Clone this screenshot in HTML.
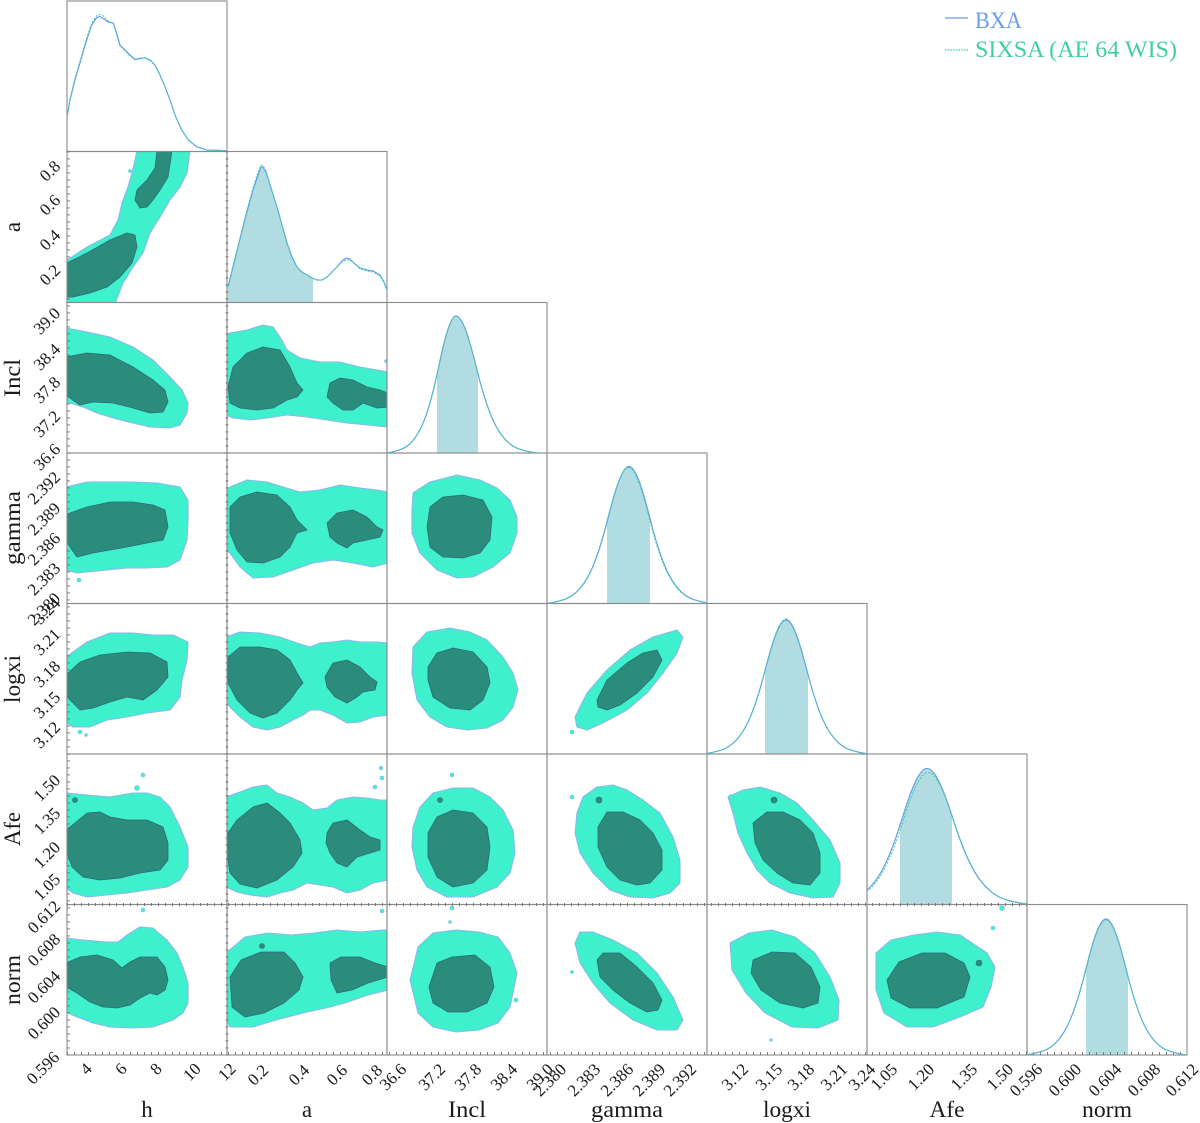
<!DOCTYPE html>
<html>
<head>
<meta charset="utf-8">
<style>
  html,body{margin:0;padding:0;background:#fff;}
  svg{display:block;}
  .lo{fill:#3ef0cb;stroke:#8ab8f0;stroke-width:1.1;stroke-linejoin:round;}
  .dk{fill:#2b8c7c;stroke:#2e6a78;stroke-width:0.8;stroke-linejoin:round;}
  .il{fill:#3ef0cb;stroke:#8ab8f0;stroke-width:0.6;}
  .id{fill:#2b8c7c;stroke:#2e6a78;stroke-width:0.6;}
  .bd{fill:none;stroke:#8a8a8a;stroke-width:1.1;}
  .tl{font-family:"Liberation Serif",serif;font-size:17px;fill:#1a1a1a;}
  .al{font-family:"Liberation Serif",serif;font-size:23px;fill:#1a1a1a;}
  .sh{fill:#b0dce2;}
  .cb{fill:none;stroke:#6a9cf0;stroke-width:1.2;}
  .cg{fill:none;stroke:#3fcf9f;stroke-width:1.0;stroke-dasharray:2 1.5;}
</style>
</head>
<body>
<svg width="1200" height="1123" viewBox="0 0 1200 1123" xmlns="http://www.w3.org/2000/svg">
<defs>
  <path id="gl" vector-effect="non-scaling-stroke" d="M-4 0 C-3.667 0 -3.333 -0.0133 -3 -0.03 C-2.667 -0.0467 -2.333 -0.0867 -2 -0.17 C-1.667 -0.2533 -1.333 -0.3998 -1 -0.6065 C-0.667 -0.8132 -0.333 -1 0 -1"/>
  <path id="gr" vector-effect="non-scaling-stroke" d="M0 -1 C0.333 -1 0.667 -0.8132 1 -0.6065 C1.333 -0.3998 1.667 -0.2533 2 -0.17 C2.333 -0.0867 2.667 -0.0467 3 -0.03 C3.333 -0.0133 3.667 0 4 0"/>
  <path id="glf" d="M-4 0 C-3.667 0 -3.333 -0.0133 -3 -0.03 C-2.667 -0.0467 -2.333 -0.0867 -2 -0.17 C-1.667 -0.2533 -1.333 -0.3998 -1 -0.6065 C-0.667 -0.8132 -0.333 -1 0 -1 L0 0 Z"/>
  <path id="grf" d="M0 -1 C0.333 -1 0.667 -0.8132 1 -0.6065 C1.333 -0.3998 1.667 -0.2533 2 -0.17 C2.333 -0.0867 2.667 -0.0467 3 -0.03 C3.333 -0.0133 3.667 0 4 0 L0 0 Z"/>

  <clipPath id="c21"><rect x="67" y="151.5" width="160" height="151"/></clipPath>
  <clipPath id="c31"><rect x="67" y="302.5" width="160" height="150.5"/></clipPath>
  <clipPath id="c32"><rect x="227" y="302.5" width="160" height="150.5"/></clipPath>
  <clipPath id="c41"><rect x="67" y="453" width="160" height="150.5"/></clipPath>
  <clipPath id="c42"><rect x="227" y="453" width="160" height="150.5"/></clipPath>
  <clipPath id="c43"><rect x="387" y="453" width="160" height="150.5"/></clipPath>
  <clipPath id="c51"><rect x="67" y="603.5" width="160" height="150.5"/></clipPath>
  <clipPath id="c52"><rect x="227" y="603.5" width="160" height="150.5"/></clipPath>
  <clipPath id="c53"><rect x="387" y="603.5" width="160" height="150.5"/></clipPath>
  <clipPath id="c54"><rect x="547" y="603.5" width="160" height="150.5"/></clipPath>
  <clipPath id="c61"><rect x="67" y="754" width="160" height="150.5"/></clipPath>
  <clipPath id="c62"><rect x="227" y="754" width="160" height="150.5"/></clipPath>
  <clipPath id="c63"><rect x="387" y="754" width="160" height="150.5"/></clipPath>
  <clipPath id="c64"><rect x="547" y="754" width="160" height="150.5"/></clipPath>
  <clipPath id="c65"><rect x="707" y="754" width="160" height="150.5"/></clipPath>
  <clipPath id="c71"><rect x="67" y="904.5" width="160" height="150.5"/></clipPath>
  <clipPath id="c72"><rect x="227" y="904.5" width="160" height="150.5"/></clipPath>
  <clipPath id="c73"><rect x="387" y="904.5" width="160" height="150.5"/></clipPath>
  <clipPath id="c74"><rect x="547" y="904.5" width="160" height="150.5"/></clipPath>
  <clipPath id="c75"><rect x="707" y="904.5" width="160" height="150.5"/></clipPath>
  <clipPath id="c76"><rect x="867" y="904.5" width="160" height="150.5"/></clipPath>

  <clipPath id="s3"><rect x="437" y="302.5" width="41" height="150.5"/></clipPath>
  <clipPath id="s4"><rect x="607" y="453" width="43" height="150.5"/></clipPath>
  <clipPath id="s5"><rect x="765" y="603.5" width="43" height="150.5"/></clipPath>
  <clipPath id="s6"><rect x="900" y="754" width="52" height="150.5"/></clipPath>
  <clipPath id="s7"><rect x="1086" y="904.5" width="42" height="150.5"/></clipPath>
  <clipPath id="p1"><rect x="67" y="1" width="160" height="150.5"/></clipPath>
  <clipPath id="p3"><rect x="387" y="302.5" width="160" height="150.5"/></clipPath>
  <clipPath id="p4"><rect x="547" y="453" width="160" height="150.5"/></clipPath>
  <clipPath id="p5"><rect x="707" y="603.5" width="160" height="150.5"/></clipPath>
  <clipPath id="p6"><rect x="867" y="754" width="160" height="150.5"/></clipPath>
  <clipPath id="p7"><rect x="1027" y="904.5" width="160" height="150.5"/></clipPath>
</defs>

<!-- ===== Row 2: a vs h ===== -->
<g clip-path="url(#c21)">
  <path class="lo" d="M67,260 L87,247 L110,235 L118,220 L122,203 L128,187 L132,173 L135,160 L137,150 L190,150 L187,173 L180,187 L170,200 L160,217 L150,233 L143,253 L133,267 L123,283 L115,304 L67,304 Z"/>
  <path class="dk" d="M67,263 L87,253 L110,240 L127,233 L135,235 L137,247 L132,263 L120,277 L107,287 L90,293 L73,297 L67,297 Z"/>
  <path class="dk" d="M157,150 L172,150 L171,158 L168,177 L160,190 L153,200 L147,207 L140,208 L135,200 L137,190 L147,180 L155,168 Z"/>
  <circle class="il" cx="130" cy="171" r="1.6"/>
</g>

<!-- ===== Row 3 ===== -->
<g clip-path="url(#c31)">
  <path class="lo" d="M66,328 L87,332 L110,337 L133,347 L153,360 L170,377 L182,390 L188,403 L187,413 L180,425 L170,428 L150,427 L133,423 L113,418 L97,413 L83,407 L70,403 L66,403 Z"/>
  <path class="dk" d="M66,357 L87,353 L110,355 L133,367 L153,380 L165,390 L168,402 L163,412 L150,413 L133,408 L113,403 L93,402 L80,405 L70,398 L66,395 Z"/>
</g>
<g clip-path="url(#c32)">
  <path class="lo" d="M226,335 L230,333 L247,330 L263,325 L273,327 L280,337 L287,350 L300,358 L320,362 L340,362 L360,367 L377,370 L388,372 L388,427 L367,425 L347,423 L327,420 L307,417 L287,415 L267,418 L250,420 L233,418 L226,415 Z"/>
  <path class="dk" d="M228,387 L233,367 L247,353 L263,347 L280,350 L290,367 L297,383 L303,390 L297,397 L287,400 L273,408 L257,410 L240,408 L230,403 Z"/>
  <path class="dk" d="M327,397 L330,383 L340,378 L353,380 L367,387 L380,390 L388,393 L388,407 L377,408 L363,403 L353,410 L343,410 L333,403 Z"/>
  <circle class="il" cx="386" cy="361" r="1.5"/>
</g>

<!-- ===== Row 4 ===== -->
<g clip-path="url(#c41)">
  <path class="lo" d="M66,487 L87,482 L110,482 L133,482 L157,483 L180,487 L188,500 L188,520 L187,540 L180,560 L167,567 L147,568 L127,568 L107,570 L87,572 L77,573 L66,570 Z"/>
  <path class="dk" d="M66,515 L70,513 L87,507 L110,502 L133,502 L153,505 L165,510 L168,527 L163,540 L147,543 L127,547 L110,550 L93,553 L77,557 L70,547 L66,540 Z"/>
  <circle class="il" cx="79" cy="580" r="2"/>
</g>
<g clip-path="url(#c42)">
  <path class="lo" d="M226,490 L230,487 L247,480 L267,482 L283,487 L300,492 L320,490 L340,485 L360,488 L377,490 L388,492 L388,563 L373,567 L353,563 L333,560 L313,563 L293,570 L273,577 L253,578 L240,567 L230,553 L226,550 Z"/>
  <path class="dk" d="M230,507 L240,497 L257,492 L277,495 L290,507 L297,520 L307,530 L297,533 L290,547 L280,557 L263,563 L247,562 L237,550 L230,533 Z"/>
  <path class="dk" d="M327,523 L337,513 L353,510 L367,517 L377,527 L383,530 L380,537 L367,540 L353,543 L347,548 L337,543 L330,537 Z"/>
</g>
<g clip-path="url(#c43)">
  <path class="lo" d="M413,493 L430,482 L457,475 L480,480 L497,488 L510,500 L517,517 L517,533 L510,553 L493,567 L473,577 L457,578 L437,570 L420,553 L412,533 L412,510 Z"/>
  <path class="dk" d="M430,507 L443,497 L463,495 L483,500 L492,517 L490,540 L480,553 L463,558 L443,557 L430,547 L427,527 Z"/>
</g>

<!-- ===== Row 5 ===== -->
<g clip-path="url(#c51)">
  <path class="lo" d="M66,657 L87,642 L110,633 L133,633 L153,635 L173,635 L188,642 L187,660 L182,680 L180,697 L170,710 L147,713 L127,717 L107,720 L90,727 L73,727 L66,722 Z"/>
  <path class="dk" d="M66,675 L80,662 L100,655 L127,652 L150,653 L167,662 L168,677 L157,690 L143,700 L127,697 L110,702 L93,708 L80,710 L70,700 L66,695 Z"/>
  <circle class="il" cx="80" cy="732" r="2"/>
  <circle class="il" cx="86" cy="735" r="1.5"/>
</g>
<g clip-path="url(#c52)">
  <path class="lo" d="M226,637 L240,632 L260,633 L280,637 L297,643 L310,647 L320,643 L333,642 L347,640 L360,642 L377,642 L388,643 L388,715 L373,717 L360,722 L347,723 L333,715 L320,710 L310,710 L303,715 L293,720 L280,727 L267,730 L253,727 L240,717 L230,707 L226,700 Z"/>
  <path class="dk" d="M228,657 L240,647 L260,647 L277,650 L290,660 L297,673 L303,683 L297,690 L290,700 L277,713 L263,718 L250,713 L237,700 L228,683 Z"/>
  <path class="dk" d="M325,677 L333,663 L347,660 L360,667 L370,677 L377,682 L375,690 L363,692 L357,697 L347,703 L335,697 L327,687 Z"/>
</g>
<g clip-path="url(#c53)">
  <path class="lo" d="M413,647 L427,632 L450,628 L470,632 L487,640 L503,657 L513,673 L518,690 L513,707 L503,720 L487,728 L467,730 L447,727 L430,717 L417,700 L412,673 Z"/>
  <path class="dk" d="M428,667 L437,653 L453,648 L473,652 L487,667 L490,683 L483,700 L470,710 L450,708 L433,697 L428,680 Z"/>
</g>
<g clip-path="url(#c54)">
  <path class="lo" d="M575,717 L587,693 L607,670 L630,650 L653,637 L677,630 L683,637 L677,653 L663,673 L647,693 L627,710 L603,723 L587,730 L577,727 Z"/>
  <path class="dk" d="M597,700 L607,680 L627,663 L643,653 L657,650 L662,660 L653,677 L637,693 L620,705 L607,710 L598,707 Z"/>
  <circle class="il" cx="572" cy="732" r="2"/>
</g>

<!-- ===== Row 6 ===== -->
<g clip-path="url(#c61)">
  <path class="lo" d="M66,793 L87,795 L110,797 L133,793 L147,793 L160,797 L170,807 L180,827 L188,847 L188,867 L180,880 L167,887 L147,890 L127,893 L107,895 L87,897 L73,893 L66,888 Z"/>
  <path class="dk" d="M66,830 L70,827 L87,813 L100,812 L110,817 L127,820 L147,820 L163,827 L168,843 L168,860 L160,870 L140,873 L120,878 L100,880 L83,877 L72,867 L66,850 Z"/>
  <circle class="il" cx="143" cy="775" r="2"/>
  <circle class="il" cx="137" cy="788" r="2.5"/>
  <circle class="id" cx="75" cy="800" r="2.5"/>
</g>
<g clip-path="url(#c62)">
  <path class="lo" d="M226,797 L240,792 L253,787 L267,785 L277,793 L290,797 L303,803 L313,810 L327,808 L337,800 L353,797 L367,798 L380,800 L388,800 L388,880 L373,883 L360,890 L347,893 L333,887 L320,885 L307,883 L293,890 L280,893 L267,897 L250,895 L237,892 L226,887 Z"/>
  <path class="dk" d="M228,833 L237,820 L253,807 L267,803 L280,813 L290,823 L300,840 L302,853 L293,867 L277,880 L257,888 L240,884 L230,873 L227,853 Z"/>
  <path class="dk" d="M327,833 L333,823 L347,820 L360,830 L370,837 L380,840 L380,850 L370,853 L357,857 L347,867 L337,863 L330,853 L326,843 Z"/>
  <circle class="il" cx="382" cy="778" r="2"/>
  <circle class="il" cx="375" cy="787" r="2"/>
  <circle class="il" cx="381" cy="768" r="1.8"/>
</g>
<g clip-path="url(#c63)">
  <path class="lo" d="M413,827 L420,807 L433,793 L453,788 L473,788 L490,797 L503,810 L513,830 L515,853 L510,873 L497,887 L473,897 L447,897 L427,887 L417,870 L412,847 Z"/>
  <path class="dk" d="M428,833 L437,817 L453,810 L473,813 L487,827 L490,847 L487,870 L473,883 L453,887 L437,877 L428,857 Z"/>
  <circle class="il" cx="452" cy="775" r="2"/>
  <circle class="id" cx="440" cy="800" r="2.5"/>
</g>
<g clip-path="url(#c64)">
  <path class="lo" d="M577,813 L583,797 L597,787 L613,785 L627,790 L643,800 L660,813 L673,837 L680,860 L680,883 L670,893 L653,898 L630,897 L610,890 L593,873 L580,853 L575,833 Z"/>
  <path class="dk" d="M598,827 L607,812 L623,812 L640,820 L653,833 L662,850 L662,870 L650,883 L637,885 L620,880 L607,867 L598,847 Z"/>
  <circle class="il" cx="572" cy="797" r="2"/>
  <circle class="id" cx="599" cy="800" r="3"/>
</g>
<g clip-path="url(#c65)">
  <path class="lo" d="M728,797 L743,790 L760,787 L780,793 L797,803 L813,820 L830,840 L840,863 L840,883 L833,897 L813,898 L790,893 L770,883 L757,870 L747,853 L738,833 L733,813 Z"/>
  <path class="dk" d="M753,823 L767,812 L783,812 L800,820 L813,833 L820,853 L820,873 L810,885 L793,883 L777,873 L763,860 L755,843 Z"/>
  <circle class="id" cx="774" cy="800" r="3"/>
  <circle class="il" cx="731" cy="797" r="2.5"/>
</g>

<!-- ===== Row 7 ===== -->
<g clip-path="url(#c71)">
  <path class="lo" d="M66,938 L83,940 L107,942 L118,942 L127,935 L140,927 L153,928 L167,940 L177,953 L183,967 L188,983 L188,1003 L183,1013 L173,1020 L153,1027 L133,1028 L110,1027 L93,1023 L77,1017 L66,1012 Z"/>
  <path class="dk" d="M66,963 L80,957 L97,955 L113,960 L122,968 L130,962 L140,957 L157,957 L165,967 L168,980 L165,990 L157,995 L150,993 L140,998 L130,1005 L117,1008 L103,1007 L90,1002 L77,993 L66,987 Z"/>
  <circle class="il" cx="143" cy="910" r="2"/>
</g>
<g clip-path="url(#c72)">
  <path class="lo" d="M226,953 L245,937 L268,933 L291,935 L314,933 L337,930 L360,932 L383,930 L388,930 L388,990 L368,995 L345,1003 L326,1008 L307,1012 L276,1020 L253,1027 L230,1027 L226,1020 Z"/>
  <path class="dk" d="M230,977 L241,960 L261,952 L284,952 L295,963 L303,977 L299,990 L284,1003 L264,1013 L245,1017 L232,1007 Z"/>
  <path class="dk" d="M330,963 L341,957 L360,957 L375,963 L388,967 L388,977 L368,983 L352,990 L337,993 L331,980 Z"/>
  <circle class="il" cx="382" cy="911" r="2"/>
  <circle class="id" cx="262" cy="946" r="2.5"/>
</g>
<g clip-path="url(#c73)">
  <path class="lo" d="M410,980 L418,947 L433,933 L456,930 L479,932 L498,937 L510,953 L517,973 L510,1007 L498,1023 L479,1030 L456,1032 L433,1027 L418,1013 Z"/>
  <path class="dk" d="M429,987 L437,963 L452,957 L475,955 L490,967 L494,987 L487,1003 L467,1012 L448,1012 L433,1003 Z"/>
  <circle class="il" cx="452" cy="908" r="2"/>
  <circle class="il" cx="450" cy="922" r="1.5"/>
  <circle class="il" cx="516" cy="1000" r="2"/>
</g>
<g clip-path="url(#c74)">
  <path class="lo" d="M575,943 L580,932 L593,932 L613,940 L637,953 L657,973 L673,997 L683,1020 L677,1030 L657,1030 L633,1020 L610,1003 L593,983 L580,963 Z"/>
  <path class="dk" d="M597,960 L603,953 L620,953 L637,967 L653,983 L662,1000 L658,1010 L647,1012 L630,1003 L613,990 L600,977 Z"/>
  <circle class="il" cx="572" cy="972" r="1.6"/>
</g>
<g clip-path="url(#c75)">
  <path class="lo" d="M730,943 L749,933 L772,930 L795,937 L815,953 L830,977 L839,1000 L838,1020 L818,1028 L792,1027 L765,1013 L746,993 L732,970 Z"/>
  <path class="dk" d="M753,960 L772,952 L795,953 L811,967 L820,987 L818,1003 L803,1008 L780,1003 L761,990 L751,973 Z"/>
  <circle class="il" cx="771" cy="1040" r="1.4"/>
</g>
<g clip-path="url(#c76)">
  <path class="lo" d="M876,953 L891,940 L914,935 L937,932 L960,935 L972,943 L987,953 L995,967 L991,987 L983,1007 L960,1017 L933,1027 L907,1027 L884,1013 L876,990 Z"/>
  <path class="dk" d="M887,980 L899,962 L922,953 L945,953 L964,963 L970,977 L964,997 L937,1008 L910,1008 L891,998 Z"/>
  <circle class="il" cx="1002" cy="908" r="2.5"/>
  <circle class="il" cx="993" cy="928" r="2"/>
  <circle class="id" cx="979" cy="963" r="3"/>
</g>

<!-- ===== 1D shades ===== -->
<path class="sh" d="M228,287 L233,267 L238,247 L243,227 L248,208 L253,190 L258,175 L261,167 L263,167 L266,172 L270,185 L277,207 L282,225 L287,243 L292,257 L297,267 L302,272 L307,275 L312,278 L313,278.5 L313,302.5 L228,302.5 Z"/>
<g clip-path="url(#s3)" class="sh">
  <use href="#glf" transform="translate(456,453) scale(18,137)"/>
  <use href="#grf" transform="translate(456,453) scale(21,137)"/>
</g>
<g clip-path="url(#s4)" class="sh">
  <use href="#glf" transform="translate(629,603.5) scale(21.5,137)"/>
  <use href="#grf" transform="translate(629,603.5) scale(21.5,137)"/>
</g>
<g clip-path="url(#s5)" class="sh">
  <use href="#glf" transform="translate(786,754) scale(21.5,134)"/>
  <use href="#grf" transform="translate(786,754) scale(21.5,134)"/>
</g>
<g clip-path="url(#s6)" class="sh">
  <use href="#glf" transform="translate(927,904.5) scale(26,135)"/>
  <use href="#grf" transform="translate(927,904.5) scale(27,135)"/>
</g>
<g clip-path="url(#s7)" class="sh">
  <use href="#glf" transform="translate(1106,1055) scale(21,136)"/>
  <use href="#grf" transform="translate(1106,1055) scale(21,136)"/>
</g>

<!-- ===== Panel borders ===== -->
<g class="bd">
  <rect x="67" y="1" width="160" height="150.5"/>
  <rect x="67" y="151.5" width="160" height="151"/><rect x="227" y="151.5" width="160" height="151"/>
  <rect x="67" y="302.5" width="160" height="150.5"/><rect x="227" y="302.5" width="160" height="150.5"/><rect x="387" y="302.5" width="160" height="150.5"/>
  <rect x="67" y="453" width="160" height="150.5"/><rect x="227" y="453" width="160" height="150.5"/><rect x="387" y="453" width="160" height="150.5"/><rect x="547" y="453" width="160" height="150.5"/>
  <rect x="67" y="603.5" width="160" height="150.5"/><rect x="227" y="603.5" width="160" height="150.5"/><rect x="387" y="603.5" width="160" height="150.5"/><rect x="547" y="603.5" width="160" height="150.5"/><rect x="707" y="603.5" width="160" height="150.5"/>
  <rect x="67" y="754" width="160" height="150.5"/><rect x="227" y="754" width="160" height="150.5"/><rect x="387" y="754" width="160" height="150.5"/><rect x="547" y="754" width="160" height="150.5"/><rect x="707" y="754" width="160" height="150.5"/><rect x="867" y="754" width="160" height="150.5"/>
  <rect x="67" y="904.5" width="160" height="150.5"/><rect x="227" y="904.5" width="160" height="150.5"/><rect x="387" y="904.5" width="160" height="150.5"/><rect x="547" y="904.5" width="160" height="150.5"/><rect x="707" y="904.5" width="160" height="150.5"/><rect x="867" y="904.5" width="160" height="150.5"/><rect x="1027" y="904.5" width="160" height="150.5"/>
</g>

<!-- ===== Ticks ===== -->
<g stroke="#6f6f6f" stroke-width="3">
  <line x1="68.5" y1="151.5" x2="68.5" y2="1055" stroke-dasharray="0.9 6.1"/>
  <line x1="227" y1="151.5" x2="227" y2="1055" stroke-dasharray="0.9 6.1"/>
  <line x1="67" y1="1053.5" x2="1187" y2="1053.5" stroke-dasharray="0.9 6.1"/>
  <line x1="67" y1="904.5" x2="1027" y2="904.5" stroke-dasharray="0.9 6.1"/>
</g>

<!-- ===== 1D curves ===== -->
<g clip-path="url(#p1)">
  <polyline class="cb" points="67,117 70,100 75,80 80,63 86.7,40 91.7,25 96.7,17.5 100,16.5 103.3,18.5 108.3,22 113.3,23 116.7,33.3 120,45 125,50 130,55 135,59.3 140,58.3 145,57.7 150,60 155,65 160,75 165,86.7 170,100 175,115 181.7,130 188.3,140 196.7,146.7 206.7,150 227,150.7"/>
  <polyline class="cg" points="67,117 70,99 75,78 80,61 86.7,38 91.7,23 96.7,15.5 100,14.5 103.3,16 108.3,21 113.3,24 116.7,35 120,46 125,51 130,56 135,60 140,59 145,58 150,60.5 155,65.5 160,75 165,86.7 170,100 175,115 181.7,130 188.3,140 196.7,146.7 206.7,150 227,150.7"/>
</g>
<polyline class="cb" points="228,287 233,267 238,247 243,227 248,208 253,190 258,175 261,167 263,167 266,172 270,185 277,207 282,225 287,243 292,257 297,267 302,272 307,275 312,278 317,280 322,280 327,277 332,272 337,267 342,261 346,258 350,259 355,264 360,268 367,270 373,271 380,275 384,282 387,290"/>
<polyline class="cg" points="228,287 233,266 238,246 243,226 248,206 253,188 258,172 261,165 263,165.5 266,171 270,184 277,207 282,225 287,243 292,257 297,267 302,272 307,275 312,278 317,280 322,280 327,277 332,272 337,267 342,262 346,260 350,260 355,264 360,269 367,271 373,272 380,276 384,283 387,290"/>

<g clip-path="url(#p3)">
  <use class="cb" href="#gl" transform="translate(456,453) scale(18,137)"/>
  <use class="cb" href="#gr" transform="translate(456,453) scale(21,137)"/>
  <use class="cg" href="#gl" transform="translate(456,453) scale(18,137)"/>
  <use class="cg" href="#gr" transform="translate(456,453) scale(21,137)"/>
</g>
<g clip-path="url(#p4)">
  <use class="cb" href="#gl" transform="translate(629,603.5) scale(21.5,137)"/>
  <use class="cb" href="#gr" transform="translate(629,603.5) scale(21.5,137)"/>
  <use class="cg" href="#gl" transform="translate(628.5,603.5) scale(21.5,136)"/>
  <use class="cg" href="#gr" transform="translate(628.5,603.5) scale(21.5,136)"/>
</g>
<g clip-path="url(#p5)">
  <use class="cb" href="#gl" transform="translate(786,754) scale(21.5,134)"/>
  <use class="cb" href="#gr" transform="translate(786,754) scale(21.5,134)"/>
  <use class="cg" href="#gl" transform="translate(786,754) scale(21.5,135)"/>
  <use class="cg" href="#gr" transform="translate(786,754) scale(21.5,135)"/>
</g>
<g clip-path="url(#p6)">
  <use class="cb" href="#gl" transform="translate(927,904.5) scale(26,136)"/>
  <use class="cb" href="#gr" transform="translate(927,904.5) scale(27,136)"/>
  <use class="cg" href="#gl" transform="translate(928,904.5) scale(26,132)"/>
  <use class="cg" href="#gr" transform="translate(928,904.5) scale(27,132)"/>
</g>
<g clip-path="url(#p7)">
  <use class="cb" href="#gl" transform="translate(1106,1055) scale(21,136)"/>
  <use class="cb" href="#gr" transform="translate(1106,1055) scale(21,136)"/>
  <use class="cg" href="#gl" transform="translate(1106,1055) scale(21,135)"/>
  <use class="cg" href="#gr" transform="translate(1106,1055) scale(21,135)"/>
</g>

<!-- ===== Y tick labels ===== -->
<g class="tl" text-anchor="middle" dominant-baseline="central">
  <text x="50" y="171" transform="rotate(-45 50 171)">0.8</text>
  <text x="50" y="205" transform="rotate(-45 50 205)">0.6</text>
  <text x="50" y="240" transform="rotate(-45 50 240)">0.4</text>
  <text x="50" y="275" transform="rotate(-45 50 275)">0.2</text>

  <text x="47" y="321" transform="rotate(-45 47 321)">39.0</text>
  <text x="47" y="357" transform="rotate(-45 47 357)">38.4</text>
  <text x="47" y="390" transform="rotate(-45 47 390)">37.8</text>
  <text x="47" y="424" transform="rotate(-45 47 424)">37.2</text>
  <text x="47" y="457" transform="rotate(-45 47 457)">36.6</text>

  <text x="44" y="488" transform="rotate(-45 44 488)">2.392</text>
  <text x="44" y="519" transform="rotate(-45 44 519)">2.389</text>
  <text x="44" y="549" transform="rotate(-45 44 549)">2.386</text>
  <text x="44" y="579" transform="rotate(-45 44 579)">2.383</text>
  <text x="44" y="609" transform="rotate(-45 44 609)">2.380</text>

  <text x="47" y="611" transform="rotate(-45 47 611)">3.24</text>
  <text x="47" y="642" transform="rotate(-45 47 642)">3.21</text>
  <text x="47" y="674" transform="rotate(-45 47 674)">3.18</text>
  <text x="47" y="705" transform="rotate(-45 47 705)">3.15</text>
  <text x="47" y="735" transform="rotate(-45 47 735)">3.12</text>

  <text x="47" y="788" transform="rotate(-45 47 788)">1.50</text>
  <text x="47" y="821" transform="rotate(-45 47 821)">1.35</text>
  <text x="47" y="855" transform="rotate(-45 47 855)">1.20</text>
  <text x="47" y="887" transform="rotate(-45 47 887)">1.05</text>

  <text x="44" y="917" transform="rotate(-45 44 917)">0.612</text>
  <text x="44" y="950" transform="rotate(-45 44 950)">0.608</text>
  <text x="44" y="987" transform="rotate(-45 44 987)">0.604</text>
  <text x="44" y="1023" transform="rotate(-45 44 1023)">0.600</text>
  <text x="43" y="1068" transform="rotate(-45 43 1068)">0.596</text>
</g>

<!-- ===== X tick labels ===== -->
<g class="tl" text-anchor="middle" dominant-baseline="central">
  <text x="86" y="1069" transform="rotate(-45 86 1069)">4</text>
  <text x="121" y="1069" transform="rotate(-45 121 1069)">6</text>
  <text x="156" y="1069" transform="rotate(-45 156 1069)">8</text>
  <text x="192" y="1072" transform="rotate(-45 192 1072)">10</text>
  <text x="227" y="1072" transform="rotate(-45 227 1072)">12</text>

  <text x="258" y="1075" transform="rotate(-45 258 1075)">0.2</text>
  <text x="299" y="1075" transform="rotate(-45 299 1075)">0.4</text>
  <text x="337" y="1075" transform="rotate(-45 337 1075)">0.6</text>
  <text x="372" y="1075" transform="rotate(-45 372 1075)">0.8</text>

  <text x="393" y="1077" transform="rotate(-45 393 1077)">36.6</text>
  <text x="432" y="1077" transform="rotate(-45 432 1077)">37.2</text>
  <text x="468" y="1077" transform="rotate(-45 468 1077)">37.8</text>
  <text x="504" y="1077" transform="rotate(-45 504 1077)">38.4</text>
  <text x="540" y="1077" transform="rotate(-45 540 1077)">39.0</text>

  <text x="550" y="1080" transform="rotate(-45 550 1080)">2.380</text>
  <text x="584" y="1080" transform="rotate(-45 584 1080)">2.383</text>
  <text x="617" y="1080" transform="rotate(-45 617 1080)">2.386</text>
  <text x="649" y="1080" transform="rotate(-45 649 1080)">2.389</text>
  <text x="680" y="1080" transform="rotate(-45 680 1080)">2.392</text>

  <text x="735" y="1077" transform="rotate(-45 735 1077)">3.12</text>
  <text x="769" y="1077" transform="rotate(-45 769 1077)">3.15</text>
  <text x="801" y="1077" transform="rotate(-45 801 1077)">3.18</text>
  <text x="834" y="1077" transform="rotate(-45 834 1077)">3.21</text>
  <text x="862" y="1077" transform="rotate(-45 862 1077)">3.24</text>

  <text x="884" y="1077" transform="rotate(-45 884 1077)">1.05</text>
  <text x="921" y="1077" transform="rotate(-45 921 1077)">1.20</text>
  <text x="964" y="1077" transform="rotate(-45 964 1077)">1.35</text>
  <text x="1000" y="1077" transform="rotate(-45 1000 1077)">1.50</text>

  <text x="1026" y="1080" transform="rotate(-45 1026 1080)">0.596</text>
  <text x="1065" y="1080" transform="rotate(-45 1065 1080)">0.600</text>
  <text x="1105" y="1080" transform="rotate(-45 1105 1080)">0.604</text>
  <text x="1144" y="1080" transform="rotate(-45 1144 1080)">0.608</text>
  <text x="1182" y="1080" transform="rotate(-45 1182 1080)">0.612</text>
</g>

<!-- ===== Axis labels ===== -->
<g class="al" text-anchor="middle">
  <text x="147" y="1117">h</text>
  <text x="307" y="1117">a</text>
  <text x="467" y="1117" textLength="38" lengthAdjust="spacingAndGlyphs">Incl</text>
  <text x="627" y="1117" textLength="72" lengthAdjust="spacingAndGlyphs">gamma</text>
  <text x="787" y="1117" textLength="48" lengthAdjust="spacingAndGlyphs">logxi</text>
  <text x="947" y="1117" textLength="35" lengthAdjust="spacingAndGlyphs">Afe</text>
  <text x="1107" y="1117" textLength="50" lengthAdjust="spacingAndGlyphs">norm</text>

  <text x="20" y="227" transform="rotate(-90 20 227)">a</text>
  <text x="20" y="378" transform="rotate(-90 20 378)" textLength="38" lengthAdjust="spacingAndGlyphs">Incl</text>
  <text x="20" y="528" transform="rotate(-90 20 528)" textLength="74" lengthAdjust="spacingAndGlyphs">gamma</text>
  <text x="20" y="679" transform="rotate(-90 20 679)" textLength="48" lengthAdjust="spacingAndGlyphs">logxi</text>
  <text x="20" y="829" transform="rotate(-90 20 829)" textLength="34" lengthAdjust="spacingAndGlyphs">Afe</text>
  <text x="20" y="980" transform="rotate(-90 20 980)" textLength="50" lengthAdjust="spacingAndGlyphs">norm</text>
</g>

<!-- ===== Legend ===== -->
<line x1="945" y1="18" x2="968" y2="18" stroke="#6a9cf0" stroke-width="1.3"/>
<line x1="945" y1="50" x2="968" y2="50" stroke="#3fcf9f" stroke-width="1.2" stroke-dasharray="1.5 1.2"/>
<text x="975" y="28" font-family="Liberation Serif, serif" font-size="23" fill="#6a9cf0" textLength="47" lengthAdjust="spacingAndGlyphs">BXA</text>
<text x="975" y="57" font-family="Liberation Serif, serif" font-size="23" fill="#3fcf9f" textLength="202" lengthAdjust="spacingAndGlyphs">SIXSA (AE 64 WIS)</text>
</svg>
</body>
</html>
